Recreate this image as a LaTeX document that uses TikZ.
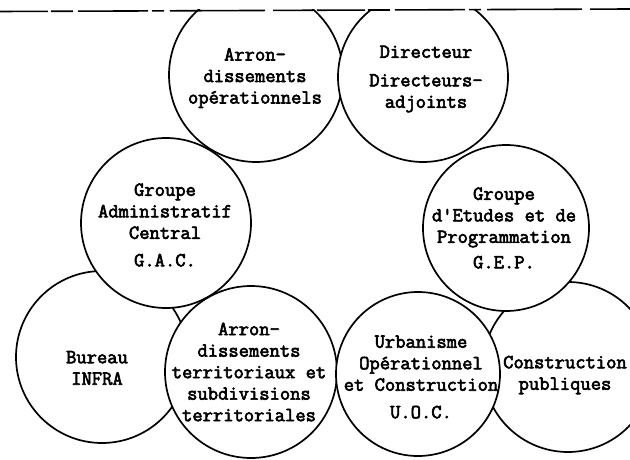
\documentclass[tikz,border=0pt]{standalone}
\usepackage{fontspec}
\newfontfamily\typefont[FakeBold=3]{Latin Modern Mono}
\begin{document}
\begin{tikzpicture}[x=1pt,y=-1pt,
  bubble/.style={circle, draw, line width=1.7pt, fill=white, inner sep=0pt, minimum size=#1},
  lbl/.style={align=center, inner sep=0pt, font=\typefont\fontsize{20}{21.5}\selectfont},
  edge/.style={line width=1.6pt, dash pattern=on 48pt off 3pt on 22pt off 5pt on 70pt off 4pt on 12pt off 6pt on 95pt off 8pt on 40pt off 4pt}]
\useasboundingbox (0,0) rectangle (630,460);
\fill[white] (0,0) rectangle (630,460);
\begin{scope}
\clip (0,10) rectangle (630,460);
\node[bubble=172pt] (bur) at (102,357) {};
\node[bubble=170pt] (cp)  at (568,367) {};
\node[bubble=170pt] (gac) at (166,223) {};
\node[bubble=174pt] (aop) at (256,75) {};
\node[bubble=170pt] (dir) at (423,77) {};
\node[bubble=166pt] (gep) at (506,228) {};
\node[bubble=172pt] (ate) at (251,372) {};
\node[bubble=164pt] (uoc) at (418,374) {};
\end{scope}
\coordinate (tl) at (0,11.5);
\coordinate (tr) at (630,9);
\draw[edge] (tl) -- (tr);

\node[lbl] (taop) at (255,78) {Arron-\\dissements\\opérationnels};
\node[lbl] (tdir) at (426,79) {Directeur\\[7pt]Directeurs-\\adjoints};
\node[lbl] (tgac) at (165,225) {Groupe\\Administratif\\Central\\[6pt]G.A.C.};
\node[lbl] (tgep) at (504,228) {Groupe\\d'Etudes et de\\Programmation\\[4pt]G.E.P.};
\node[lbl] (tbur) at (97,368) {Bureau\\INFRA};
\node[lbl] (tate) at (249,372) {Arron-\\dissements\\territoriaux et\\subdivisions\\territoriales};
\node[lbl] (tuoc) at (421,377) {Urbanisme\\Opérationnel\\et Construction\\[6pt]U.O.C.};
\node[lbl] (tcp)  at (565,375) {Construction\\publiques};
\end{tikzpicture}
\end{document}
